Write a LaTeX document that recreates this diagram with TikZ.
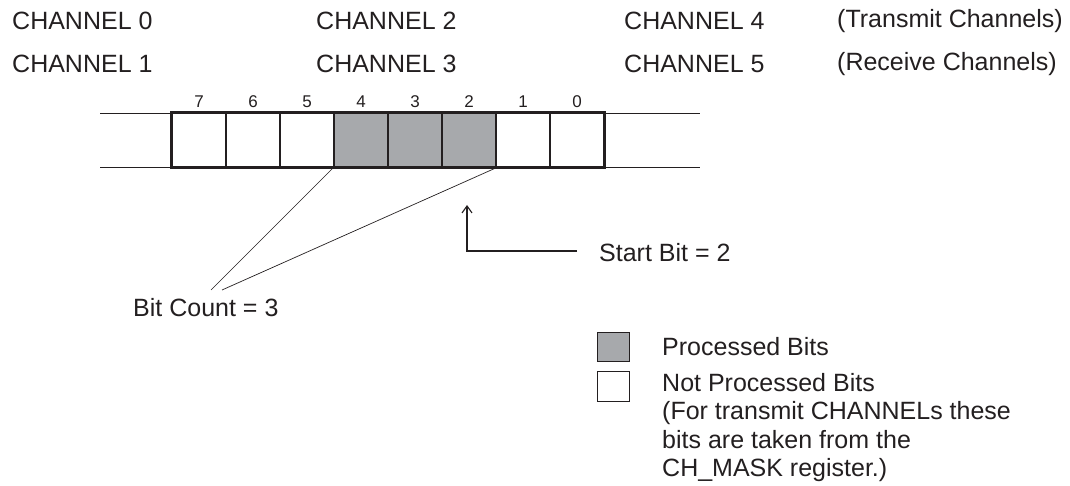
\documentclass[tikz,border=0pt]{standalone}
\usepackage{fontspec}
\setmainfont{Liberation Sans}
\usepackage{tikz}
\usetikzlibrary{positioning,arrows.meta}
\definecolor{procgray}{HTML}{A7A9AC}
\definecolor{inkgray}{HTML}{231F20}
\tikzset{
  bitcell/.style={draw=inkgray,line width=1.2pt,minimum width=54pt,minimum height=54pt,inner sep=0pt},
  procbit/.style={bitcell,fill=procgray},
  txt/.style={font=\fontsize{25}{28.5}\selectfont,text=inkgray,inner sep=0pt,anchor=west},
  numlbl/.style={font=\fontsize{17}{19}\selectfont,text=inkgray,inner sep=0pt},
  keybox/.style={draw=inkgray,line width=0.8pt,minimum width=32pt,minimum height=29pt,inner sep=0pt}
}

\begin{document}
\begin{tikzpicture}[x=1pt,y=-1pt]
\useasboundingbox (0,0) rectangle (1070,486);
% channel names
\node[txt] (ch0) at (12,21) {CHANNEL 0};
\node[txt] (ch2) at (316,21) {CHANNEL 2};
\node[txt] (ch4) at (624,21) {CHANNEL 4};
\node[txt] (tx) at (837,21) {(Transmit Channels)};
\node[txt] (ch1) at (12,64) {CHANNEL 1};
\node[txt] (ch3) at (316,64) {CHANNEL 3};
\node[txt] (ch5) at (624,64) {CHANNEL 5};
\node[txt] (rx) at (837,64) {(Receive Channels)};
% register
\draw[inkgray,line width=0.9pt] (100,113) -- (700,113);
\draw[inkgray,line width=0.9pt] (100,167) -- (700,167);
\foreach \b in {7,...,0} {
  \node[bitcell] (c\b) at ({172+(7-\b)*54+27},140) {};
  \node[numlbl] (n\b) at ({172+(7-\b)*54+27},102) {\b};
}
\foreach \b in {4,3,2}
  \node[procbit] at (c\b) {};
\draw[inkgray,line width=2.6pt] (c7.north west) rectangle (c0.south east);
% bit count
\coordinate (bcl) at (211,290);
\coordinate (bcr) at (222,290);
\draw[inkgray,line width=0.7pt] (c4.south west) -- (bcl);
\draw[inkgray,line width=0.7pt] (c2.south east) -- (bcr);
\node[txt] (bitcount) at (133,308) {Bit Count = 3};
% start bit
\coordinate (sbend) at (577,251);
\draw[inkgray,line width=1.1pt,-{Straight Barb[length=7pt,width=10pt]}] (sbend) -- (467,251) -- (467,205);
\node[txt] (startbit) at (599,253) {Start Bit = 2};
% key
\node[keybox,fill=procgray] (kproc) at (613,346.5) {};
\node[keybox,minimum height=30pt] (knot) at (613,386) {};
\node[txt] (lproc) at (662,347) {Processed Bits};
\node[txt,anchor=north west,align=left] (lnot) at (662,373) {Not Processed Bits\\(For transmit CHANNELs these\\bits are taken from the\\CH\_MASK register.)};
\end{tikzpicture}
\end{document}
